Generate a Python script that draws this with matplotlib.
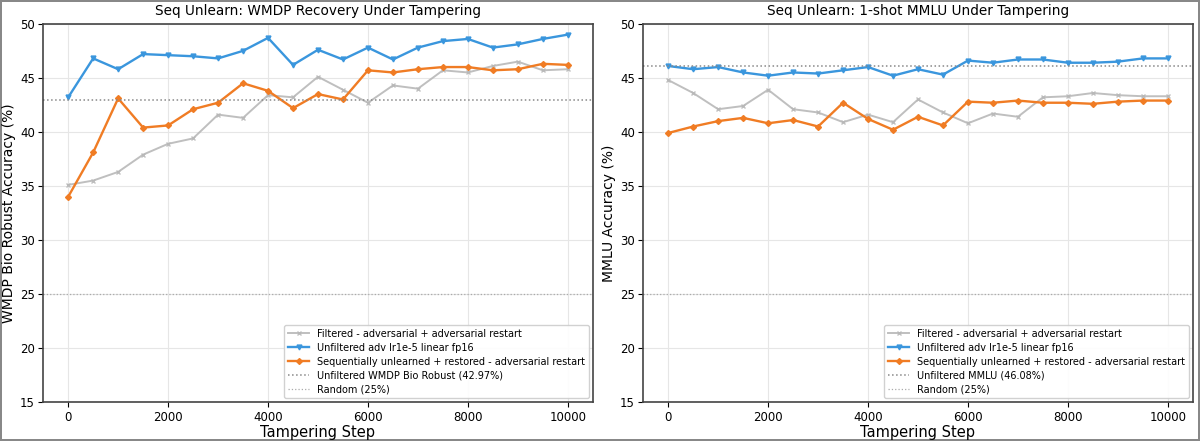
import matplotlib
matplotlib.use("Agg")
import matplotlib.pyplot as plt

# tampering steps (shared x axis)
steps = list(range(0, 10001, 500))

# WMDP Bio Robust accuracy (%)
wmdp_filtered = [35.1, 35.5, 36.3, 37.9, 38.9, 39.4, 41.6, 41.3, 43.4, 43.2, 45.1,
                 43.9, 42.7, 44.3, 44.0, 45.7, 45.5, 46.1, 46.5, 45.7, 45.8]
wmdp_unfiltered = [43.2, 46.8, 45.8, 47.2, 47.1, 47.0, 46.8, 47.5, 48.7, 46.2, 47.6,
                   46.7, 47.8, 46.7, 47.8, 48.4, 48.6, 47.8, 48.1, 48.6, 49.0]
wmdp_seq = [34.0, 38.1, 43.1, 40.4, 40.6, 42.1, 42.7, 44.5, 43.8, 42.2, 43.5,
            43.0, 45.7, 45.5, 45.8, 46.0, 46.0, 45.7, 45.8, 46.3, 46.2]

# 1-shot MMLU accuracy (%)
mmlu_filtered = [44.8, 43.6, 42.1, 42.4, 43.9, 42.1, 41.8, 40.9, 41.6, 40.9, 43.0,
                 41.8, 40.8, 41.7, 41.4, 43.2, 43.3, 43.6, 43.4, 43.3, 43.3]
mmlu_unfiltered = [46.1, 45.8, 46.0, 45.5, 45.2, 45.5, 45.4, 45.7, 46.0, 45.2, 45.8,
                   45.3, 46.6, 46.4, 46.7, 46.7, 46.4, 46.4, 46.5, 46.8, 46.8]
mmlu_seq = [39.9, 40.5, 41.0, 41.3, 40.8, 41.1, 40.5, 42.7, 41.2, 40.2, 41.4,
            40.6, 42.8, 42.7, 42.9, 42.7, 42.7, 42.6, 42.8, 42.9, 42.9]

wmdp_baseline = 42.97
mmlu_baseline = 46.08
random_chance = 25

panels = [
    ("Seq Unlearn: WMDP Recovery Under Tampering", "WMDP Bio Robust Accuracy (%)",
     wmdp_filtered, wmdp_unfiltered, wmdp_seq, wmdp_baseline,
     f"Unfiltered WMDP Bio Robust ({wmdp_baseline:.2f}%)"),
    ("Seq Unlearn: 1-shot MMLU Under Tampering", "MMLU Accuracy (%)",
     mmlu_filtered, mmlu_unfiltered, mmlu_seq, mmlu_baseline,
     f"Unfiltered MMLU ({mmlu_baseline:.2f}%)"),
]

fig = plt.figure(figsize=(12, 4.41), dpi=100)
fig.patch.set_edgecolor("#888888")
fig.patch.set_linewidth(1.5)
lefts = [0.036, 0.536]
for left, (title, ylabel, filt, unf, seq, base, base_label) in zip(lefts, panels):
    ax = fig.add_axes([left, 0.088, 0.458, 0.858])
    ax.plot(steps, filt, color="#b8b8b8", marker="x", markersize=2.5, linewidth=1.4,
            alpha=0.9, label="Filtered - adversarial + adversarial restart")
    ax.plot(steps, unf, color="#3a96dd", marker="v", markersize=3.5, linewidth=1.7,
            label="Unfiltered adv lr1e-5 linear fp16")
    ax.plot(steps, seq, color="#f07c24", marker="D", markersize=3, linewidth=1.7,
            label="Sequentially unlearned + restored - adversarial restart")
    ax.axhline(base, color="#888888", linestyle=":", linewidth=1.1, label=base_label)
    ax.axhline(random_chance, color="#aaaaaa", linestyle=":", linewidth=0.9,
               label=f"Random ({random_chance}%)")
    ax.set_ylim(15, 50)
    ax.set_xlim(-500, 10500)
    ax.set_title(title, fontsize=9.8)
    ax.set_xlabel("Tampering Step", fontsize=10.5, labelpad=1)
    ax.set_ylabel(ylabel, fontsize=10, labelpad=3)
    ax.tick_params(labelsize=8.5, pad=2.5)
    ax.grid(True, color="#e6e6e6", linewidth=0.8)
    for s in ax.spines.values():
        s.set_color("#444444")
        s.set_linewidth(1.2)
    ax.legend(loc="lower right", fontsize=7, framealpha=0.9, borderaxespad=0.4,
              handlelength=2.2, labelspacing=0.4)

fig.savefig("out.png", dpi=100)
